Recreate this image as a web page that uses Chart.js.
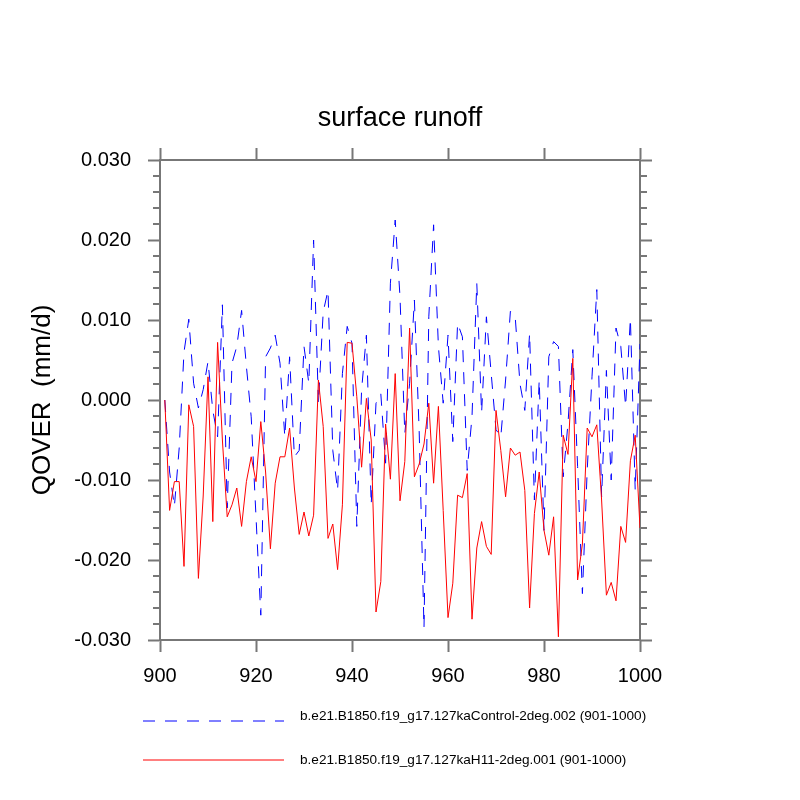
<!DOCTYPE html>
<html>
<head>
<meta charset="utf-8">
<title>surface runoff</title>
<script src="https://cdn.jsdelivr.net/npm/chart.js@4.4.1/dist/chart.umd.min.js"></script>
<style>
  html, body { margin: 0; padding: 0; background: #fff; }
  canvas { display: block; }
</style>
</head>
<body>
<canvas id="runoffChart" width="800" height="800"></canvas>
<script>
// QOVER, mm/d, model years 901-1000
const startYear = 901;

const controlRunoff = [
   0.0000, -0.0090, -0.0133, -0.0060,  0.0060,  0.0101,  0.0021, -0.0010,  0.0013,  0.0048,
  -0.0013, -0.0046,  0.0119, -0.0135,  0.0046,  0.0067,  0.0112,  0.0042, -0.0021, -0.0146,
  -0.0269,  0.0054,  0.0065,  0.0081,  0.0046, -0.0046,  0.0054, -0.0071, -0.0063,  0.0067,
   0.0021,  0.0200, -0.0004,  0.0110,  0.0137, -0.0063, -0.0113,  0.0033,  0.0092,  0.0071,
  -0.0158,  0.0013,  0.0081, -0.0131, -0.0004,  0.0008, -0.0079,  0.0146,  0.0225,  0.0129,
  -0.0042,  0.0021,  0.0125, -0.0040, -0.0285,  0.0104,  0.0219,  0.0067, -0.0004,  0.0081,
  -0.0052,  0.0096,  0.0079, -0.0088, -0.0021,  0.0146, -0.0016,  0.0104,  0.0033, -0.0037,
  -0.0046,  0.0025,  0.0111,  0.0104,  0.0020, -0.0013,  0.0083, -0.0125,  0.0025, -0.0163,
   0.0054,  0.0073,  0.0067, -0.0096, -0.0029,  0.0063, -0.0083, -0.0242, -0.0088,  0.0029,
   0.0138, -0.0121,  0.0037, -0.0100,  0.0090,  0.0067, -0.0008,  0.0102, -0.0113,  0.0070
];

const h11Runoff = [
   0.0000, -0.0138, -0.0102, -0.0102, -0.0208, -0.0006, -0.0033, -0.0223, -0.0120,  0.0029,
  -0.0152,  0.0072, -0.0050, -0.0146, -0.0131, -0.0110, -0.0158, -0.0102, -0.0071, -0.0102,
  -0.0027, -0.0090, -0.0186, -0.0104, -0.0071, -0.0071, -0.0035, -0.0110, -0.0168, -0.0140,
  -0.0170, -0.0144,  0.0025, -0.0033, -0.0173, -0.0155, -0.0212, -0.0131,  0.0072,  0.0071,
   0.0004, -0.0084,  0.0002, -0.0050, -0.0265, -0.0227, -0.0030, -0.0099,  0.0033, -0.0126,
  -0.0077,  0.0090, -0.0096, -0.0080, -0.0055, -0.0004, -0.0104, -0.0008, -0.0138, -0.0272,
  -0.0229, -0.0119, -0.0122, -0.0092, -0.0274, -0.0185, -0.0152, -0.0183, -0.0193, -0.0013,
  -0.0063, -0.0121, -0.0060, -0.0069, -0.0065, -0.0113, -0.0260, -0.0142, -0.0090, -0.0163,
  -0.0194, -0.0146, -0.0296, -0.0044, -0.0068,  0.0052, -0.0225, -0.0180, -0.0035, -0.0046,
  -0.0031, -0.0125, -0.0244, -0.0228, -0.0251, -0.0158, -0.0178, -0.0076, -0.0044, -0.0160
];

const seriesLabels = [
  'b.e21.B1850.f19_g17.127kaControl-2deg.002 (901-1000)',
  'b.e21.B1850.f19_g17.127kaH11-2deg.001 (901-1000)'
];

const xTicks = [900, 920, 940, 960, 980, 1000];
const yTicks = [-0.03, -0.02, -0.01, 0, 0.01, 0.02, 0.03];
const yMinorStep = 0.002;

const years = controlRunoff.map((_, i) => startYear + i);
const toPoints = vals => vals.map((v, i) => ({ x: years[i], y: v }));

const axisColor = '#777777';
const titleSize = 27;
const titlePadTop = 102;
Chart.defaults.font.family = '"Liberation Sans", Arial, Helvetica, sans-serif';
Chart.defaults.color = '#000';

// minor ticks on the left and right value axes
const minorTicks = {
  id: 'minorTicks',
  afterDraw(chart) {
    const ctx = chart.ctx;
    ctx.save();
    ctx.strokeStyle = axisColor;
    ctx.lineWidth = 2;
    ['y', 'y2'].forEach(id => {
      const s = chart.scales[id];
      const n = Math.round((s.max - s.min) / yMinorStep);
      for (let k = 0; k <= n; k++) {
        const v = s.min + k * yMinorStep;
        if (yTicks.some(t => Math.abs(t - v) < 1e-9)) continue;
        const py = Math.round(s.getPixelForValue(v));
        const x0 = id === 'y' ? s.right : s.left;
        const x1 = id === 'y' ? x0 - 7 : x0 + 7;
        ctx.beginPath();
        ctx.moveTo(x0, py);
        ctx.lineTo(x1, py);
        ctx.stroke();
      }
    });
    ctx.restore();
  }
};

// legend below the plot, in the NCL layout (line sample then text)
const lineLegend = {
  id: 'lineLegend',
  afterDraw(chart, args, opts) {
    const ctx = chart.ctx;
    ctx.save();
    chart.data.datasets.forEach((ds, i) => {
      const row = opts.rows[i];
      ctx.strokeStyle = ds.borderColor;
      ctx.lineWidth = ds.borderWidth;
      ctx.setLineDash(ds.borderDash || []);
      ctx.beginPath();
      ctx.moveTo(opts.lineStart, row.line);
      ctx.lineTo(opts.lineEnd, row.line);
      ctx.stroke();
      ctx.setLineDash([]);
      ctx.fillStyle = '#000';
      ctx.font = opts.font;
      ctx.textAlign = 'left';
      ctx.textBaseline = 'middle';
      ctx.fillText(ds.label, opts.textStart, row.text);
    });
    ctx.restore();
  }
};

const hiddenTickAxis = (position, fit) => ({
  type: 'linear',
  position: position,
  min: position === 'top' ? xTicks[0] : yTicks[0],
  max: position === 'top' ? xTicks[xTicks.length - 1] : yTicks[yTicks.length - 1],
  afterBuildTicks: s => { s.ticks = (position === 'top' ? xTicks : yTicks).map(v => ({ value: v })); },
  afterFit: fit,
  ticks: { display: false },
  grid: { drawOnChartArea: false, tickLength: 12, tickColor: axisColor, tickWidth: 2 },
  border: { display: true, color: axisColor, width: 2 }
});

new Chart(document.getElementById('runoffChart'), {
  type: 'line',
  data: {
    datasets: [
      {
        label: seriesLabels[0],
        data: toPoints(controlRunoff),
        borderColor: '#0000ff',
        borderWidth: 1,
        borderDash: [12, 10],
        pointRadius: 0,
        tension: 0,
        fill: false,
        order: 2
      },
      {
        label: seriesLabels[1],
        data: toPoints(h11Runoff),
        borderColor: '#ff0000',
        borderWidth: 1,
        pointRadius: 0,
        tension: 0,
        fill: false,
        order: 1
      }
    ]
  },
  options: {
    responsive: false,
    animation: false,
    events: [],
    layout: { padding: 0 },
    plugins: {
      legend: { display: false },
      tooltip: { enabled: false },
      title: {
        display: true,
        text: 'surface runoff',
        font: { size: titleSize, weight: 'normal', lineHeight: 1.2 },
        color: '#000',
        padding: { top: titlePadTop, bottom: 0 }
      },
      lineLegend: {
        lineStart: 143,
        lineEnd: 284,
        textStart: 300,
        font: '13.6px "Liberation Sans", Arial, sans-serif',
        rows: [{ line: 721, text: 716 }, { line: 760, text: 760 }]
      }
    },
    scales: {
      x: {
        type: 'linear',
        position: 'bottom',
        min: xTicks[0],
        max: xTicks[xTicks.length - 1],
        afterBuildTicks: s => { s.ticks = xTicks.map(v => ({ value: v })); },
        afterFit: s => { s.height = 160; },
        ticks: {
          font: { size: 20 },
          color: '#000',
          padding: 12,
          maxRotation: 0,
          callback: v => String(v)
        },
        grid: { drawOnChartArea: false, tickLength: 12, tickColor: axisColor, tickWidth: 2 },
        border: { display: true, color: axisColor, width: 2 }
      },
      y: {
        type: 'linear',
        position: 'left',
        min: yTicks[0],
        max: yTicks[yTicks.length - 1],
        afterBuildTicks: s => { s.ticks = yTicks.map(v => ({ value: v })); },
        afterFit: s => { s.width = 160; },
        ticks: {
          font: { size: 20 },
          color: '#000',
          padding: 17,
          callback: v => (Math.abs(v) < 1e-9 ? 0 : v).toFixed(3)
        },
        title: {
          display: true,
          text: 'QOVER  (mm/d)',
          font: { size: 26, weight: 'normal', lineHeight: 1.2 },
          color: '#000',
          padding: { top: 27, bottom: 0 }
        },
        grid: { drawOnChartArea: false, tickLength: 12, tickColor: axisColor, tickWidth: 2 },
        border: { display: true, color: axisColor, width: 2 }
      },
      x2: hiddenTickAxis('top', s => { s.height = 160 - (titlePadTop + titleSize * 1.2); }),
      y2: hiddenTickAxis('right', s => { s.width = 160; })
    }
  },
  plugins: [minorTicks, lineLegend]
});
</script>
</body>
</html>
